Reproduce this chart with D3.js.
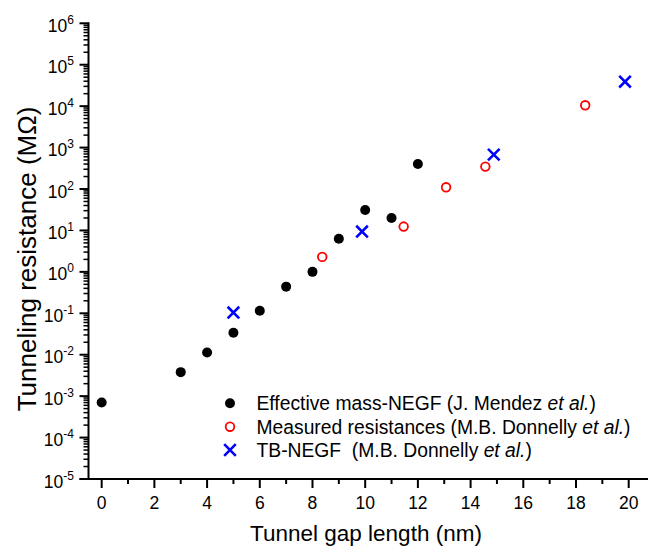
<!DOCTYPE html>
<html><head><meta charset="utf-8">
<script src="https://cdn.jsdelivr.net/npm/d3@7"></script>
<style>
body{margin:0;background:#fff;}
svg{display:block;font-family:"Liberation Sans",Arial,sans-serif;}
text{white-space:pre;}
</style></head>
<body><svg id="c" width="648" height="548"></svg>
<script>
// Data
const mendezX = [0, 3, 4, 5, 6, 7, 8, 9, 10, 11, 12];
const mendezY = [7.0e-4, 3.8e-3, 1.13e-2, 0.034, 0.115, 0.44, 1.0, 6.3, 31, 20, 400];
const measuredX = [8.37, 11.46, 13.07, 14.56, 18.35];
const measuredY = [2.3, 12.4, 110, 347, 10500];
const tbX = [5, 9.88, 14.88, 19.86];
const tbY = [0.104, 9.4, 676, 39000];
const xTicks = [0, 2, 4, 6, 8, 10, 12, 14, 16, 18, 20];
const yExps = [-5, -4, -3, -2, -1, 0, 1, 2, 3, 4, 5, 6];
const legendLabels = [
  ["Effective mass-NEGF (J. Mendez ", "et al.", ")"],
  ["Measured resistances (M.B. Donnelly ", "et al.", ")"],
  ["TB-NEGF\u00A0\u00A0(M.B. Donnelly ", "et al.", ")"]
];

const svg = d3.select("#c");
const x = d3.scaleLinear().domain([-0.5, 21]).range([88.5, 101.7 + 21 * 26.35]);
const y = d3.scaleLog().domain([1e-5, 1e6]).range([479, 23.3]);

// Minor ticks y (log)
const minor = [];
for (let e = -5; e < 6; e++) for (let k = 2; k <= 9; k++) minor.push(k * Math.pow(10, e));
svg.append("g").selectAll("line").data(minor).join("line")
  .attr("x1", x(-0.5) - 5).attr("x2", x(-0.5))
  .attr("y1", d => y(d)).attr("y2", d => y(d))
  .attr("stroke", "#000").attr("stroke-width", 1.5);

// Major y ticks
svg.append("g").selectAll("line").data(yExps).join("line")
  .attr("x1", x(-0.5) - 9).attr("x2", x(-0.5))
  .attr("y1", d => y(Math.pow(10, d))).attr("y2", d => y(Math.pow(10, d)))
  .attr("stroke", "#000").attr("stroke-width", 2);

// y labels
const yl = svg.append("g").selectAll("text").data(yExps).join("text")
  .attr("x", 74).attr("y", d => y(Math.pow(10, d)) + 8.5)
  .attr("text-anchor", "end").attr("font-size", 17.5).attr("fill", "#000");
yl.append("tspan").text("10");
yl.append("tspan").attr("dy", -8).attr("font-size", 12).text(d => String(d));

// x minor ticks
const xMinor = d3.range(1, 20, 2);
svg.append("g").selectAll("line").data(xMinor).join("line")
  .attr("x1", d => x(d)).attr("x2", d => x(d))
  .attr("y1", 479).attr("y2", 484)
  .attr("stroke", "#000").attr("stroke-width", 2);
svg.append("g").selectAll("line").data(xTicks).join("line")
  .attr("x1", d => x(d)).attr("x2", d => x(d))
  .attr("y1", 479).attr("y2", 488)
  .attr("stroke", "#000").attr("stroke-width", 2);
svg.append("g").selectAll("text").data(xTicks).join("text")
  .attr("x", d => x(d)).attr("y", 509)
  .attr("text-anchor", "middle").attr("font-size", 17.5).text(d => d);

// axis lines
svg.append("line").attr("x1", x(-0.5)).attr("x2", x(-0.5)).attr("y1", y(1e6) - 1).attr("y2", 479)
  .attr("stroke", "#000").attr("stroke-width", 2);
svg.append("line").attr("x1", x(-0.5) - 9).attr("x2", 648).attr("y1", 479).attr("y2", 479)
  .attr("stroke", "#000").attr("stroke-width", 2);

// axis titles
svg.append("text").attr("x", 366).attr("y", 541).attr("text-anchor", "middle")
  .attr("font-size", 22.5).text("Tunnel gap length (nm)");
svg.append("text").attr("transform", "translate(36,259) rotate(-90)").attr("text-anchor", "middle")
  .attr("font-size", 26).text("Tunneling resistance (M\u03A9)");

// Data marks
const mendez = mendezX.map((v, i) => [v, mendezY[i]]);
const measured = measuredX.map((v, i) => [v, measuredY[i]]);
const tb = tbX.map((v, i) => [v, tbY[i]]);

svg.append("g").selectAll("circle").data(mendez).join("circle")
  .attr("cx", d => x(d[0])).attr("cy", d => y(d[1])).attr("r", 5).attr("fill", "#000");
svg.append("g").selectAll("circle").data(measured).join("circle")
  .attr("cx", d => x(d[0])).attr("cy", d => y(d[1])).attr("r", 4.3)
  .attr("fill", "none").attr("stroke", "#ff0000").attr("stroke-width", 1.8);
const cross = (g, cx, cy, s) => g.append("path")
  .attr("d", `M${cx - s},${cy - s}L${cx + s},${cy + s}M${cx - s},${cy + s}L${cx + s},${cy - s}`)
  .attr("stroke", "#0000ff").attr("stroke-width", 2.6).attr("fill", "none");
const tbG = svg.append("g");
tb.forEach(d => cross(tbG, x(d[0]), y(d[1]), 5.8));

// Legend
const legY = [403.3, 426.7, 450];
const lg = svg.append("g");
lg.append("circle").attr("cx", 230).attr("cy", legY[0]).attr("r", 5).attr("fill", "#000");
lg.append("circle").attr("cx", 230).attr("cy", legY[1]).attr("r", 4.3).attr("fill", "none")
  .attr("stroke", "#ff0000").attr("stroke-width", 1.8);
cross(lg, 230, legY[2], 5.8);
legendLabels.forEach((parts, i) => {
  const t = lg.append("text").attr("x", 256.5).attr("y", legY[i] + 7).attr("font-size", 19.3);
  t.append("tspan").text(parts[0]);
  t.append("tspan").attr("font-style", "italic").text(parts[1]);
  t.append("tspan").text(parts[2]);
});
</script></body></html>
